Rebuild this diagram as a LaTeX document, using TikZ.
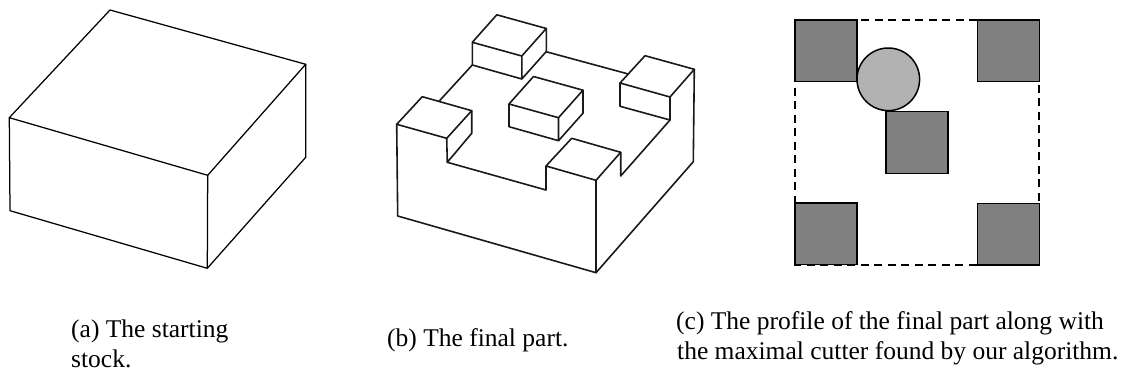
\documentclass[tikz,border=0pt]{standalone}
\usepackage{fontspec}
\usepackage{xcolor}
\setmainfont{Liberation Serif}
\usetikzlibrary{calc}
\definecolor{post}{HTML}{808080}
\definecolor{cutter}{HTML}{B2B2B2}
\tikzset{
  base/.style={draw=black, line width=1.25pt, line cap=round, line join=round},
  thick3d/.style={draw=black!90, line width=1.6pt, line cap=round, line join=round},
  profile/.style={draw=black, line width=1.5pt, fill=post},
  stockbox/.style={draw=black, line width=1.7pt, dash pattern=on 8pt off 5.5pt},
  lab/.style={inner sep=0pt, anchor=base west, font=\fontsize{25.5}{30}\selectfont},
}
\begin{document}
\begin{tikzpicture}[x=1pt,y=-1pt]
  \useasboundingbox (0,0) rectangle (1125,375);
  % starting stock
  \coordinate (A) at (110,10);
  \coordinate (B) at (305.7,64.3);
  \coordinate (C) at (207.7,175.3);
  \coordinate (D) at (9.3,117.7);
  \coordinate (E) at (10,210.7);
  \coordinate (F) at (207.3,268.3);
  \coordinate (G) at (305.7,157.3);
  \draw[base] (A)--(B)--(C)--(D)--cycle;
  \draw[base] (D)--(E)--(F)--(G)--(B) (C)--(F);
  % final part, the small blocks
  \foreach \X/\Y in {472.3/42.3,509/104}
    \draw[thick3d] (\X,\Y)--++(24.5,-27.5)--++(49.5,13.7)--++(-24.5,27.5)--cycle
      (\X,\Y)--++(0,22.7)--++(49.5,14)--++(24.5,-27.5)--++(0,-23)
      (\X+49.5,\Y+13.7)--++(0,23);
  \draw[thick3d] (546,51.7)--(628.3,74) (472.3,65)--(439.3,101);
  % final part, the outer shape
  \draw[thick3d] (645,55.7)--(694.3,69.3)--(670,97)--(620,83)--cycle;
  \draw[thick3d] (620,83)--(620,106.3)--(670,120)--(670,97);
  \draw[thick3d] (422.3,96.7)--(471.7,110.7)--(446.7,138.3)--(396.7,124.3)--cycle;
  \draw[thick3d] (471.7,110.7)--(471.7,133.3)--(447.3,162.3)--(446.7,138.3);
  \draw[thick3d] (396.7,124.3)--(397.7,216)--(596,272.7)--(693.3,161.7)--(694.3,69.3);
  \draw[thick3d] (447.3,162.3)--(546,190)--(546,166)--(596,180.3)--(620.7,152.3)--(571.7,138.3)--(546,166);
  \draw[thick3d] (596,180.3)--(596,272.7) (620.7,152.3)--(620.7,176)--(670,120);
  % profile
  \draw[stockbox] (795,20) rectangle (1039.3,265);
  \foreach \X/\Y in {795/20,977.3/20,886/111.7,795/202.9,977.3/203.3}
    \draw[profile] (\X,\Y) rectangle ++(62,61.7);
  \draw[profile,fill=cutter] (888.3,79.3) circle (31.3);
  % captions
  \node[lab] (capa) at (71,337) {(a) The starting};
  \node[lab] (capa2) at (71,367) {stock.};
  \node[lab] (capb) at (387,346) {(b) The final part.};
  \node[lab] (capc) at (676,329) {(c) The profile of the final part along with};
  \node[lab] (capc2) at (677,359) {the maximal cutter found by our algorithm.};
\end{tikzpicture}
\end{document}
